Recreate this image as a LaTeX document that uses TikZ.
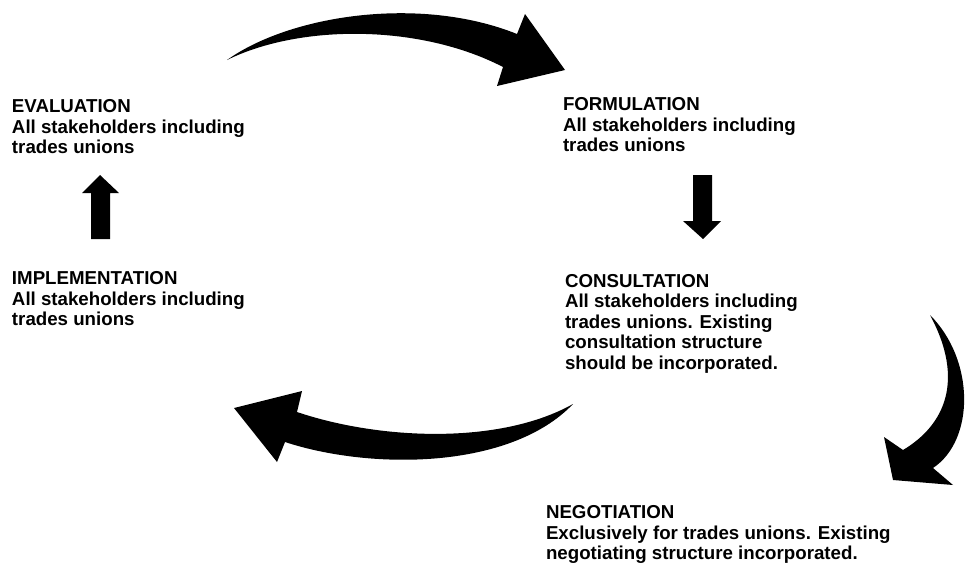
\documentclass[tikz,border=0pt]{standalone}
\usepackage{fontspec}
\setmainfont{Liberation Sans}
\begin{document}
\begin{tikzpicture}[x=1pt,y=-1pt,
  label/.style={anchor=base west,inner sep=0pt,outer sep=0pt,align=left,
    font=\fontsize{18.7}{20.6}\selectfont\bfseries},
  blockarrow/.style={fill=black,draw=none}]
\useasboundingbox (0,0) rectangle (968,568);
% text blocks (anchored at the baseline of their last line)
\node[label] (eval) at (12,153.7) {EVALUATION\\All stakeholders including\\trades unions};
\node[label] (form) at (563,151.7) {FORMULATION\\All stakeholders including\\trades unions};
\node[label] (impl) at (12,325.7) {IMPLEMENTATION\\All stakeholders including\\trades unions};
\node[label] (cons) at (565,369.4) {CONSULTATION\\All stakeholders including\\trades unions. Existing\\consultation structure\\should be incorporated.};
\node[label] (nego) at (546,559.7) {NEGOTIATION\\Exclusively for trades unions. Existing\\negotiating structure incorporated.};
% straight arrows
\fill[blockarrow] (693,175) -- (712,175) -- (712,221) -- (721,221) -- (703,239) -- (683,221) -- (693,221) -- cycle;
\fill[blockarrow] (100,175) -- (119,193) -- (110,193) -- (110,239) -- (91,239) -- (91,193) -- (82,193) -- cycle;
% top curved arrow
\fill[blockarrow] (227,60) .. controls (290,15) and (420,-5) .. (517,34)
  -- (525,14) -- (565,70) -- (497,86) -- (503,67)
  .. controls (420,24) and (300,24) .. (227,60) -- cycle;
% right curved arrow
\fill[blockarrow] (930,315) .. controls (975,360) and (975,440) .. (933,468)
  -- (953,485) -- (893,480) -- (884,437) -- (903,450)
  .. controls (945,425) and (965,380) .. (930,315) -- cycle;
% bottom curved arrow
\fill[blockarrow] (573,404) .. controls (510,470) and (370,470) .. (285,442)
  -- (277,462) -- (234,408) -- (302,391) -- (297,412)
  .. controls (380,440) and (500,445) .. (573,404) -- cycle;
\end{tikzpicture}
\end{document}
